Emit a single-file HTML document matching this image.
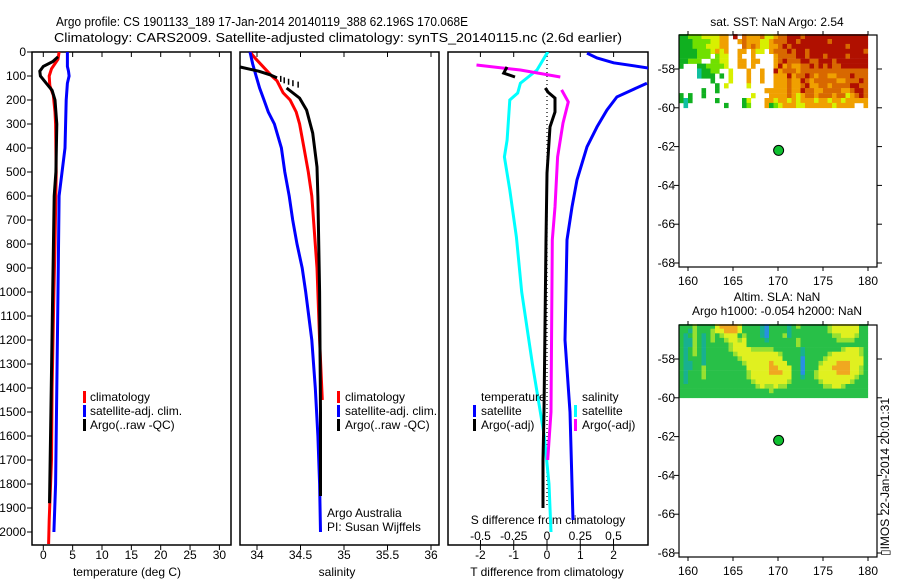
<!DOCTYPE html>
<html><head><meta charset="utf-8"><style>
html,body{margin:0;padding:0;background:#fff;}
svg{display:block;font-family:"Liberation Sans",sans-serif;}
</style></head><body>
<svg id="c" width="900" height="580" viewBox="0 0 900 580" xmlns="http://www.w3.org/2000/svg">
<rect width="900" height="580" fill="#fff"/>
<text x="56" y="26" font-size="13" textLength="412" lengthAdjust="spacingAndGlyphs">Argo profile: CS 1901133_189 17-Jan-2014 20140119_388 62.196S 170.068E</text>
<text x="54" y="42" font-size="13" textLength="568" lengthAdjust="spacingAndGlyphs">Climatology: CARS2009. Satellite-adjusted climatology: synTS_20140115.nc (2.6d earlier)</text>
<text x="777" y="26" font-size="12" text-anchor="middle">sat. SST: NaN Argo: 2.54</text>
<text x="777" y="301" font-size="12" text-anchor="middle">Altim. SLA: NaN</text>
<text x="777" y="315" font-size="12" text-anchor="middle">Argo h1000: -0.054 h2000: NaN</text>
<text font-size="12" transform="translate(889,556) rotate(-90)">▯IMOS 22-Jan-2014 20:01:31</text>
<g id="g"></g>
</svg>
<script>
// ---------- data ----------
const depthTicks=[0,100,200,300,400,500,600,700,800,900,1000,1100,1200,1300,1400,1500,1600,1700,1800,1900,2000];
const tempTicks=[0,5,10,15,20,25,30];
const salTicks=[34,34.5,35,35.5,36];
const salTickLabels=["34","34.5","35","35.5","36"];
const tdiffTicks=[-2,-1,0,1,2];
const sdiffTicks=[-0.5,-0.25,0,0.25,0.5];
const sdiffTickLabels=["-0.5","-0.25","0","0.25","0.5"];
const mapLatTicks=[-58,-60,-62,-64,-66,-68];
const mapLonTicks=[160,165,170,175,180];

const climTdepth=[0,30,70,100,140,180,250,300,500,800,1000,1400,1700,1950,2050];
const climT=[2.7,2.5,1.4,1.0,1.1,1.7,2.0,2.1,2.2,2.0,1.8,1.5,1.4,1.0,0.9];
const satTdepth=[0,60,80,100,130,200,400,600,1000,1400,1800,2000];
const satT=[4.1,4.1,4.3,4.4,4.1,3.9,3.7,2.7,2.5,2.3,2.1,1.8];
const argoTdepth=[20,40,60,80,100,130,160,200,300,500,600,1000,1500,1880];
const argoT=[2.5,1.6,0.0,-0.6,-0.5,0.5,1.5,2.0,2.3,2.15,1.85,1.6,1.3,1.05];

const climSdepth=[0,30,100,120,170,200,250,300,400,500,600,900,1200,1450];
const climS=[33.92,33.99,34.17,34.23,34.30,34.38,34.45,34.49,34.54,34.59,34.63,34.69,34.72,34.75];
const satSdepth=[0,50,100,150,200,250,300,400,500,600,700,800,900,1000,1200,1400,1600,1800,2000];
const satS=[33.92,33.95,33.99,34.03,34.08,34.13,34.20,34.28,34.32,34.37,34.41,34.46,34.52,34.56,34.63,34.67,34.70,34.72,34.73];
const argoSdepthA=[62,80,95,108];
const argoSA=[33.80,34.02,34.15,34.23];
const argoSdepthB=[150,192,242,338,479,604,1000,1500,1850];
const argoSB=[34.34,34.49,34.57,34.64,34.69,34.70,34.72,34.73,34.73];
const qcSdepth=[112,118,124,130,136];
const qcS=[34.27,34.31,34.36,34.41,34.47];

const dTsatDepthA=[5,25,45,70];
const dTsatA=[1.2,1.5,2.0,3.2];
const dTsatDepthB=[130,187,242,312,395,533,646,783,1200,1500,1950];
const dTsatB=[3.0,2.1,1.8,1.5,1.2,0.9,0.75,0.6,0.54,0.69,0.78];
const dSsatDepth=[0,5,75,130,171,200,367,437,575,771,1000,1300,1600,1800,2000];
const dSsat=[0.01,0.0,-0.075,-0.2,-0.22,-0.28,-0.30,-0.32,-0.28,-0.23,-0.19,-0.11,-0.02,0.015,0.03];
const dSargoDepthA=[54,75,104];
const dSargoA=[-0.53,-0.2,0.1];
const dSargoDepthB=[158,208,296,437,646,783,1500,1700];
const dSargoB=[0.11,0.16,0.12,0.08,0.06,0.04,0.03,0.005];
const dTargoDepthA=[62,88,104];
const dTargoA=[-1.2,-1.3,-0.96];
const dTargoDepthB=[150,167,192,250,312,504,783,1500,1700,1900];
const dTargoB=[-0.05,0.03,0.24,0.24,0.09,0.0,-0.03,-0.09,-0.12,-0.12];

const argoLon=170.068, argoLat=-62.196;
// SST grid: 0.5 deg lon from 159, 0.25 deg lat from -56.25
const sstRows=[
"GGgggyyyyoo.R.roooryyorrRRRrRRRRRRRRRRRRRR",
"GGGggggyyoo..oroooyyorrrRRrRRRRRRrRRRRRRRR",
"GGGgggyyyoo...roroyyoorRrRRRRRRRRRRRRrRRRR",
"GGGGgggyoyo..oo.oyy.orrrRrRRrRRRRRRRRRRRRr",
"GGGGggg.gyy..o..o....orrrrRRrRRRrRRRRrRRRR",
"GGggg..ggyy..oo.oo...orRrrrRRrrRRRrRRRRRRR",
"G...GGggggy..oo.o....oRoroorrRrRrRrrRRRRRR",
"....tGGgg..y...o..o..Rorrrorrrrrrrrrrrrrrr",
"....tGGG.G.y...o..o..oooRorrRrorroorrrRrrr",
".......G...y...o..o..ooorooRrorrrrroorrrRr",
"........G.y....y.....oooroorRoorrorrrrRRrr",
".....G..G..........ooooorooRrroorrrroorRRr",
"G.G..G..........y...ooooroyorrorrrorryorRr",
"GtG.....G.....Gy...ooyooyoyoooyooyooyooooo",
".t........G...Gg...oGgyoooyyooooooyoooo..o"];
const slaRows=[
"GGGgGGGGyooooyGGGGtbGGGGtGgGGGGGGgyyyyyyGG",
"GGtgGGGgyyoooyGGGGtbGGGGtGGGGGGGGgyyyyyyGG",
"GtGgGtGgGgyyyGgGGGtbGGGgtGGGGGGGGGggyyygGG",
"GttgGtGgGGgyygyGGGGtGGGGGGgGGGGGGGGggggGGG",
"GttgGtGGGGGgyyyGGGGGGGGGGGgGGGGGGGGGGGGGGG",
"GtGgGtGGGGGgyyyygggggGGGGGGtGGGGGGGGgyyygG",
"GtGgGtGGGGGGgyyyyyyyyygGGGGtGGGGGgyyyyyygG",
"GtGGGtGGGGGGGgyyyyyyyyyGGGGbGGGGgyyyyyyyyG",
"GttGGtGGGGGGGGgyyyyyoyyyGGGbGGGgyyyoooyyyG",
"GttGGgGGGGGGGGGyyyyyooyyyGGbGGGyyyooooyygG",
"GtGGGgGGGGGGGGGgyyyyoooyyGGbGGgyyyyoooyygG",
"GtGGGgGGGGGGGGGgyyyyyyyyyGGtGGgyyyyyyyygGG",
"GtGGGGGGGGGGGGGGgyyyyyyygGGGGGGgyyyyyygGGG",
"GGGGGGGGGGGGGGGGGgyggyggGGGGGGGGggyygGGGGG",
"GGGGGGGGGGGGGGGGGGGGgGGGGGGGGGGGGGGGGGGGGG",
"GGGGGGGGGGGGGGGGGGGGGGGGGGGGGGGGGGGGGGGGGG"];
const sstColors={G:"#10b020",g:"#70e000",y:"#d8f000",t:"#10c0a0",o:"#f0a000",r:"#d86800",R:"#b01000"};
const slaColors={G:"#28c048",g:"#98e030",y:"#e0f020",o:"#f0a820",t:"#18b090",b:"#2890e0"};

// ---------- helpers ----------
const NS="http://www.w3.org/2000/svg";
const G=document.getElementById('g');
function mk(tag,attrs,parent){const e=document.createElementNS(NS,tag);for(const k in attrs)e.setAttribute(k,attrs[k]);(parent||G).appendChild(e);return e;}
const Y=d=>52+d*0.24; // depth -> y
const xT=v=>43.3+5.87*v;
const xS=v=>257+87*(v-34);
const xDT=v=>547+33.3*v;
const xDS=v=>547+133*v;
const TOP=52,BOT=545;

function panel(name,x0,x1){
  const r=mk('rect',{x:x0,y:TOP,width:x1-x0,height:BOT-TOP,fill:'none',stroke:'#000','stroke-width':1.5});
  
  
}
function line(name,xs,ys,xf,color,clip,dash){
  const pts=xs.map((v,i)=>xf(v).toFixed(1)+','+Y(ys[i]).toFixed(1)).join(' ');
  const a={points:pts,fill:'none',stroke:color,'stroke-width':3,'stroke-linejoin':'miter'};
  if(clip)a['clip-path']='url(#'+clip+')';
  if(dash){a['stroke-dasharray']=dash;a['stroke-width']=1.2;}
  const p=mk('polyline',a);
  
  
}
function txt(name,x,y,s,anchor,size){
  const t=mk('text',{x:x,y:y,'font-size':size||12,'text-anchor':anchor||'start'});
  t.textContent=s;
  
  
  return t;
}
function legTick(x,y,color){
  const r=mk('rect',{x:x,y:y-10,width:3,height:12,fill:color});
  
  
}
const defs=mk('defs',{});
const cp=mk('clipPath',{id:'p3'},defs); mk('rect',{x:448,y:TOP,width:200,height:BOT-TOP},cp);

// panels
panel('temperature-panel',32,231);
panel('salinity-panel',240,439);
panel('difference-panel',448,648);

// depth axis
depthTicks.forEach(d=>{
  mk('line',{x1:27,x2:32,y1:Y(d),y2:Y(d),stroke:'#000'});
  txt('depth-tick-label',26,Y(d)+4,String(d),'end');
});
// temperature x ticks
tempTicks.forEach(v=>{
  const x=xT(v);
  mk('line',{x1:x,x2:x,y1:TOP,y2:TOP+5,stroke:'#000'});
  mk('line',{x1:x,x2:x,y1:BOT,y2:BOT+5,stroke:'#000'});
  txt('temperature-tick-label',x,559,String(v),'middle');
});
txt('x-axis-title-temperature',127,576,'temperature (deg C)','middle');
salTicks.forEach((v,i)=>{
  const x=xS(v);
  mk('line',{x1:x,x2:x,y1:TOP,y2:TOP+5,stroke:'#000'});
  mk('line',{x1:x,x2:x,y1:BOT,y2:BOT+5,stroke:'#000'});
  txt('salinity-tick-label',x,559,salTickLabels[i],'middle');
});
txt('x-axis-title-salinity',337,576,'salinity','middle');
tdiffTicks.forEach(v=>{
  const x=xDT(v);
  mk('line',{x1:x,x2:x,y1:TOP,y2:TOP+5,stroke:'#000'});
  mk('line',{x1:x,x2:x,y1:BOT,y2:BOT+5,stroke:'#000'});
  txt('tdiff-tick-label',x,559,String(v),'middle');
});
sdiffTicks.forEach((v,i)=>{
  const x=xDS(v);
  mk('line',{x1:x,x2:x,y1:BOT-5,y2:BOT,stroke:'#000'});
  txt('sdiff-tick-label',x,540,sdiffTickLabels[i],'middle');
});
txt('sdiff-axis-title',548,524,'S difference from climatology','middle');
txt('x-axis-title-tdiff',547,576,'T difference from climatology','middle');

// temperature series
line('climatology-temperature',climT,climTdepth,xT,'#f00');
line('satellite-temperature',satT,satTdepth,xT,'#00f');
line('argo-temperature',argoT,argoTdepth,xT,'#000');
// salinity series
line('climatology-salinity',climS,climSdepth,xS,'#f00');
line('satellite-salinity',satS,satSdepth,xS,'#00f');
line('argo-salinity-upper',argoSA,argoSdepthA,xS,'#000');
line('argo-salinity',argoSB,argoSdepthB,xS,'#000');
qcS.forEach((v,i)=>{
  const r=mk('rect',{x:xS(v)-0.5,y:Y(qcSdepth[i])-3,width:1.5,height:6,fill:'#000'});
  
  
});
// difference series
mk('line',{x1:547,x2:547,y1:TOP+4,y2:Y(1900),stroke:'#000','stroke-dasharray':'1,3','stroke-width':1.2});
line('satellite-tdiff-upper',dTsatA,dTsatDepthA,xDT,'#00f','p3');
line('satellite-tdiff',dTsatB,dTsatDepthB,xDT,'#00f','p3');
line('satellite-sdiff',dSsat,dSsatDepth,xDS,'#0ff','p3');
line('argo-sdiff-upper',dSargoA,dSargoDepthA,xDS,'#f0f','p3');
line('argo-sdiff',dSargoB,dSargoDepthB,xDS,'#f0f','p3');
line('argo-tdiff-upper',dTargoA,dTargoDepthA,xDT,'#000','p3');
line('argo-tdiff',dTargoB,dTargoDepthB,xDT,'#000','p3');

// legends
legTick(83,401,'#f00');txt('legend-climatology',90,401,'climatology');
legTick(83,415,'#00f');txt('legend-satellite-adj',90,415,'satellite-adj. clim.');
legTick(83,429,'#000');txt('legend-argo',90,429,'Argo(..raw -QC)');
legTick(337,401,'#f00');txt('legend-climatology',345,401,'climatology');
legTick(337,415,'#00f');txt('legend-satellite-adj',345,415,'satellite-adj. clim.');
legTick(337,429,'#000');txt('legend-argo',345,429,'Argo(..raw -QC)');
txt('argo-australia-label',327,517,'Argo Australia');
txt('pi-label',327,531,'PI: Susan Wijffels');
txt('legend-temperature-header',481,401,'temperature');
legTick(473,415,'#00f');txt('legend-temp-satellite',481,415,'satellite');
legTick(473,429,'#000');txt('legend-temp-argo',481,429,'Argo(-adj)');
txt('legend-salinity-header',582,401,'salinity');
legTick(574,415,'#0ff');txt('legend-sal-satellite',582,415,'satellite');
legTick(574,429,'#f0f');txt('legend-sal-argo',582,429,'Argo(-adj)');

// maps
function mapPanel(name,top,rows,colors){
  const lx=lon=>688+9*(lon-160);
  const ly=lat=>top+34+19.4*(-58-lat);
  const g=mk('g',{});
  
  
  const nr=rows.length, dlat=3.8/nr;
  rows.forEach((row,ri)=>{
    for(let c=0;c<42;c++){
      const ch=row[c];
      if(!ch||ch==='.')continue;
      const lon=159+0.5*c, lat=-56.2-dlat*ri;
      const x=lx(lon), y=ly(lat);
      mk('rect',{x:x.toFixed(1),y:y.toFixed(1),width:4.6,height:(19.4*dlat+0.3).toFixed(1),fill:colors[ch]},g);
    }
  });
  mk('rect',{x:679,y:top,width:198,height:232,fill:'none',stroke:'#000','stroke-width':1.2});
  mapLatTicks.forEach(v=>{
    const y=ly(v);
    mk('line',{x1:674,x2:679,y1:y,y2:y,stroke:'#000'});
    mk('line',{x1:877,x2:882,y1:y,y2:y,stroke:'#000'});
    txt('map-lat-label',675,y+4,String(v),'end');
  });
  mapLonTicks.forEach(v=>{
    const x=lx(v);
    mk('line',{x1:x,x2:x,y1:top-4,y2:top,stroke:'#000'});
    mk('line',{x1:x,x2:x,y1:top+232,y2:top+236,stroke:'#000'});
    txt('map-lon-label',x,top+250,String(v),'middle');
  });
  const d=mk('circle',{cx:lx(argoLon),cy:ly(argoLat),r:5,fill:'#10c030',stroke:'#000','stroke-width':1});
  
  
}
mapPanel('sst-map',35,sstRows,sstColors);
mapPanel('sla-map',325,slaRows,slaColors);
</script>
</body></html>
